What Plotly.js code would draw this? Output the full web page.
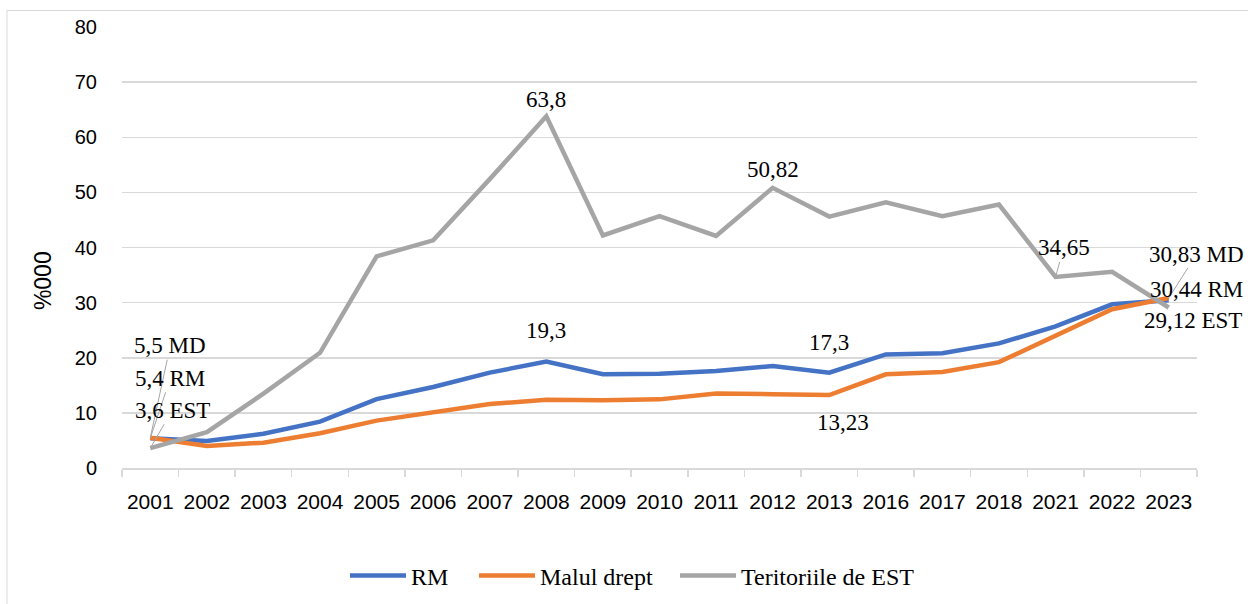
<!DOCTYPE html>
<html>
<head>
<meta charset="utf-8">
<script src="https://cdn.plot.ly/plotly-3.0.1.min.js"></script>
<style>
html,body{margin:0;padding:0;background:#fff;}
#chart{width:1248px;height:604px;}
</style>
</head>
<body>
<div id="chart"></div>
<script>
// Categories (years)
const years = ['2001','2002','2003','2004','2005','2006','2007','2008','2009','2010','2011','2012','2013','2016','2017','2018','2021','2022','2023'];
// Series values (%000)
const rmValues  = [5.4, 4.9, 6.2, 8.4, 12.5, 14.7, 17.3, 19.3, 17.0, 17.1, 17.6, 18.5, 17.3, 20.6, 20.8, 22.6, 25.7, 29.7, 30.44];
const mdValues  = [5.5, 4.0, 4.6, 6.3, 8.6, 10.0, 11.6, 12.4, 12.3, 12.45, 13.5, 13.4, 13.23, 17.0, 17.4, 19.2, 24.0, 28.8, 30.83];
const estValues = [3.6, 6.5, 13.5, 20.9, 38.4, 41.3, 52.4, 63.8, 42.2, 45.7, 42.1, 50.82, 45.6, 48.2, 45.7, 47.8, 34.65, 35.6, 29.12];
// Series names
const seriesNames = ['RM', 'Malul drept', 'Teritoriile de EST'];
const yTicks = [0, 10, 20, 30, 40, 50, 60, 70, 80];

const serif = "'Liberation Serif', 'Times New Roman', serif";
const sans = "'Liberation Sans', Arial, sans-serif";
const labelFont = {family: serif, size: 23, color: '#000'};

const traces = [
  {x: years, y: rmValues, name: seriesNames[0], type: 'scatter', mode: 'lines', line: {color: '#4472C4', width: 4.5}, legend: 'legend'},
  {x: years, y: mdValues, name: seriesNames[1], type: 'scatter', mode: 'lines', line: {color: '#ED7D31', width: 4.5}, legend: 'legend2'},
  {x: years, y: estValues, name: seriesNames[2], type: 'scatter', mode: 'lines', line: {color: '#A5A5A5', width: 4.5}, legend: 'legend3'}
];

function idx(y){ return years.indexOf(y); }
function fmt(v){ return String(v).replace('.', ','); }

const ann = [];
function plain(year, arr, opts){
  const i = idx(year);
  ann.push(Object.assign({x: i, y: arr[i], xref: 'x', yref: 'y', text: fmt(arr[i]), showarrow: false, font: labelFont}, opts));
}
plain('2008', estValues, {yanchor: 'bottom', yshift: 2});
plain('2012', estValues, {yanchor: 'bottom', yshift: 4});
plain('2008', rmValues, {yanchor: 'bottom', yshift: 17});
plain('2013', rmValues, {yanchor: 'bottom', yshift: 16});
plain('2013', mdValues, {yanchor: 'top', yshift: -13, xshift: 14});
function leader(year, arr, suffix, ax, ay){
  const i = idx(year);
  ann.push({x: i, y: arr[i], xref: 'x', yref: 'y', text: fmt(arr[i]) + suffix,
    showarrow: true, arrowhead: 0, arrowwidth: 1, arrowcolor: '#A5A5A5', ax: ax, ay: ay, standoff: 0,
    font: labelFont});
}
leader('2021', estValues, '', 8, -29);
leader('2001', mdValues, ' MD', 20, -92);
leader('2001', rmValues, ' RM', 20, -60);
leader('2001', estValues, ' EST', 22, -38);
leader('2023', mdValues, ' MD', 28, -44);
leader('2023', rmValues, ' RM', 28, -11);
leader('2023', estValues, ' EST', 24, 13);
ann.push({xref: 'paper', yref: 'paper', x: -0.0735, y: 0.426, text: '%000', textangle: -90, showarrow: false,
  font: {family: sans, size: 23, color: '#000'}, xanchor: 'center', yanchor: 'middle'});

function legendAt(px){
  return {orientation: 'h', xref: 'container', yref: 'container', x: px / 1248, xanchor: 'left',
    y: 1 - 576 / 604, yanchor: 'middle', font: {family: serif, size: 24, color: '#000'},
    itemwidth: 56, bgcolor: 'rgba(0,0,0,0)', borderwidth: 0};
}

const layout = {
  width: 1248, height: 604,
  margin: {l: 122, r: 51, t: 27, b: 136},
  paper_bgcolor: '#fff', plot_bgcolor: '#fff',
  showlegend: true,
  legend: legendAt(345),
  legend2: legendAt(474),
  legend3: legendAt(675),
  xaxis: {type: 'category', categoryorder: 'array', categoryarray: years, range: [-0.5, years.length - 0.5],
    autorange: false,
    showgrid: false, showline: true, linecolor: '#d9d9d9', linewidth: 1.5,
    ticks: 'outside', tickson: 'boundaries', ticklen: 7, tickcolor: '#d9d9d9', tickwidth: 1.5,
    tickangle: 0, tickfont: {family: sans, size: 21, color: '#000'}, ticklabelstandoff: 14,
    zeroline: false, fixedrange: true},
  yaxis: {range: [0, 80], autorange: false, tickvals: yTicks, ticktext: yTicks.map(String),
    showgrid: true, gridcolor: '#d9d9d9', gridwidth: 1.5, zeroline: false, showline: false,
    ticks: '', tickfont: {family: sans, size: 20, color: '#000'}, ticklabelstandoff: 24, fixedrange: true},
  annotations: ann,
  shapes: [{type: 'rect', xref: 'paper', yref: 'paper', x0: -0.107, x1: 1.1, y0: -0.4, y1: 1.0374,
    line: {color: '#d9d9d9', width: 1}, fillcolor: 'rgba(0,0,0,0)', layer: 'below'}]
};

Plotly.newPlot('chart', traces, layout, {displayModeBar: false, staticPlot: true});
</script>
</body>
</html>
